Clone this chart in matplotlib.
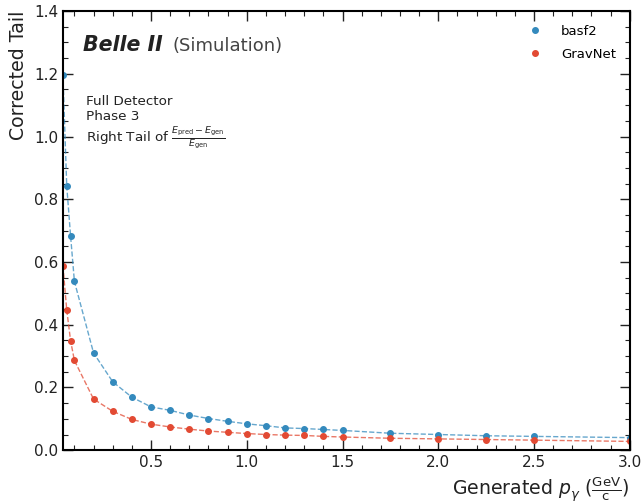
import numpy as np
from matplotlib import pyplot as plt
from matplotlib.ticker import MultipleLocator

# generated photon momentum bins (GeV/c)
p_gen = [0.04, 0.06, 0.08, 0.1, 0.2, 0.3, 0.4, 0.5, 0.6, 0.7, 0.8, 0.9, 1.0,
         1.1, 1.2, 1.3, 1.4, 1.5, 1.75, 2.0, 2.25, 2.5, 3.0]

tail_basf2 = [1.196, 0.842, 0.683, 0.538, 0.310, 0.218, 0.169, 0.138, 0.127,
              0.112, 0.101, 0.092, 0.084, 0.078, 0.071, 0.069, 0.066, 0.063,
              0.054, 0.050, 0.046, 0.044, 0.040]
tail_gravnet = [0.588, 0.447, 0.349, 0.286, 0.163, 0.124, 0.098, 0.083, 0.074,
                0.067, 0.061, 0.057, 0.053, 0.050, 0.048, 0.047, 0.044, 0.042,
                0.038, 0.036, 0.034, 0.032, 0.028]

blue = '#348ABD'
red = '#E24A33'

fig = plt.figure(figsize=(6.42, 5.03), dpi=100)
ax = fig.add_axes([0.098, 0.105, 0.883, 0.873])

for y, c, name in [(tail_basf2, blue, 'basf2'), (tail_gravnet, red, 'GravNet')]:
    ax.plot(p_gen, y, ls='--', lw=1.0, color=c, alpha=0.75)
    ax.plot(p_gen, y, 'o', ms=4.0, color=c, label=name)

ax.set_xlim(p_gen[0], p_gen[-1])
ax.set_ylim(0, 1.4)

ax.xaxis.set_major_locator(MultipleLocator(0.5))
ax.xaxis.set_minor_locator(MultipleLocator(0.1))
ax.yaxis.set_major_locator(MultipleLocator(0.2))
ax.yaxis.set_minor_locator(MultipleLocator(0.05))
ax.tick_params(which='both', direction='in', top=True, right=True,
               labelsize=11, colors='#222222')
ax.tick_params(which='major', length=7, width=1.0)
ax.tick_params(which='minor', length=3.5, width=0.8)
for s in ax.spines.values():
    s.set_linewidth(1.5)
    s.set_color('black')

ax.set_xlabel(r'Generated $p_\gamma$ ($\frac{\mathrm{GeV}}{\mathrm{c}}$)',
              fontsize=13.6, loc='right', color='#222222')
ax.set_ylabel('Corrected Tail', fontsize=13.6, loc='top', color='#222222')

ax.text(0.035, 0.91, 'Belle II', transform=ax.transAxes, fontsize=14.8,
        fontweight='bold', fontstyle='italic', color='#222222', va='baseline')
ax.text(0.194, 0.91, '(Simulation)', transform=ax.transAxes, fontsize=13,
        color='#444444', va='baseline')
ax.text(0.04, 0.795, 'Full Detector', transform=ax.transAxes, fontsize=9.7,
        color='#222222', va='center')
ax.text(0.04, 0.761, 'Phase 3', transform=ax.transAxes, fontsize=9.7,
        color='#222222', va='center')
ax.text(0.04, 0.711,
        r'Right Tail of $\frac{E_{\mathrm{pred}} - E_{\mathrm{gen}}}{E_{\mathrm{gen}}}$',
        transform=ax.transAxes, fontsize=9.7, color='#222222', va='center')

ax.legend(loc='upper right', frameon=False, fontsize=9.5, handlelength=1.0,
          handletextpad=1.5, labelspacing=0.75, borderaxespad=0.65)

fig.savefig('out.png', dpi=100)
